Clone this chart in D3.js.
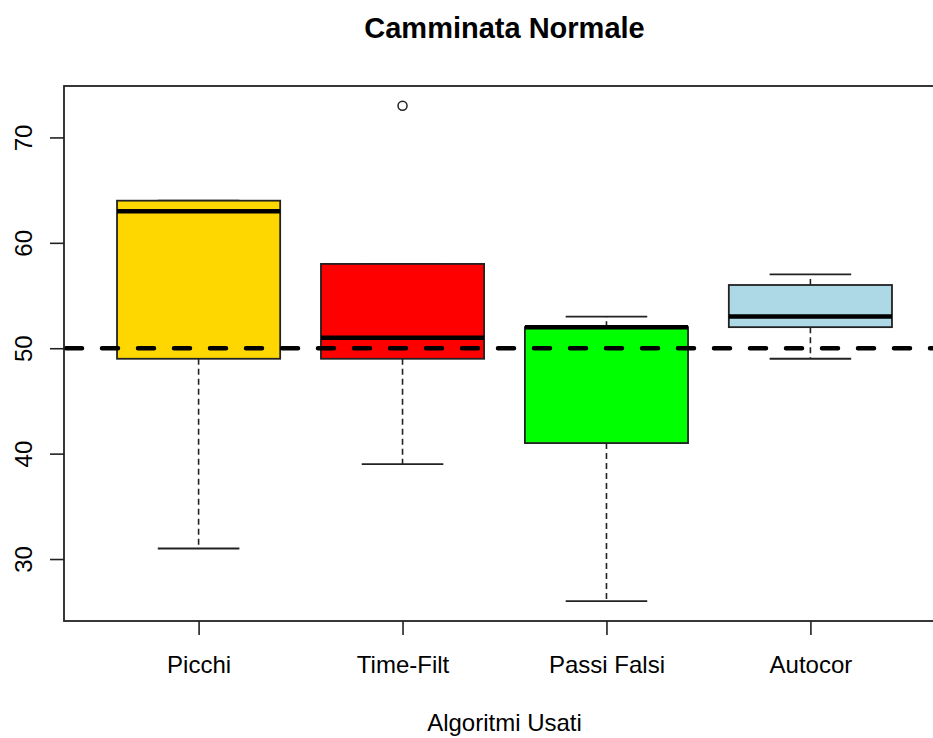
<!DOCTYPE html>
<html>
<head>
<meta charset="utf-8">
<script src="https://cdn.jsdelivr.net/npm/d3@7"></script>
<style>
  body { margin: 0; background: #fff; }
  svg { display: block; font-family: "Liberation Sans", Arial, sans-serif; }
</style>
</head>
<body>
<svg id="chart" width="933" height="738"></svg>
<script>
// dati
const categories = ["Picchi", "Time-Filt", "Passi Falsi", "Autocor"];
const fills = ["#FFD700", "#FF0000", "#00FF00", "#ADD8E6"];
const lowerWhisker = [31, 39, 26, 49];
const q1 = [49, 49, 41, 52];
const median = [63, 51, 52, 53];
const q3 = [64, 58, 52, 56];
const upperWhisker = [64, 58, 53, 57];
const outliers = [[], [73], [], []];
const yTicks = [30, 40, 50, 60, 70];
const refValue = 50;

const svg = d3.select("#chart");

// limiti come in R (estensione del 4%)
const yMin = d3.min([...lowerWhisker, ...outliers.flat()]);
const yMax = d3.max([...upperWhisker, ...outliers.flat()]);
const yPad = (yMax - yMin) * 0.04;
const n = categories.length;
const xPad = n * 0.04;

const x = d3.scaleLinear().domain([0.5 - xPad, n + 0.5 + xPad]).range([64, 945]);
const y = d3.scaleLinear().domain([yMin - yPad, yMax + yPad]).range([621, 86]);

const stroke = "#222";

// asse y
const yAxis = svg.append("g")
  .attr("transform", `translate(${x.range()[0]},0)`)
  .call(d3.axisLeft(y).tickValues(yTicks).tickSize(14).tickPadding(0).tickFormat(d3.format("d")));
yAxis.select(".domain").remove();
yAxis.selectAll(".tick line").attr("stroke", stroke).attr("stroke-width", 1.6);
yAxis.selectAll(".tick text")
  .attr("x", null).attr("dy", null)
  .attr("text-anchor", "middle")
  .attr("transform", "translate(-32,0) rotate(-90)")
  .attr("fill", "#000")
  .style("font-size", "24px")
  .style("font-family", "Liberation Sans, Arial, sans-serif");

// asse x
const xAxis = svg.append("g")
  .attr("transform", `translate(0,${y.range()[0]})`)
  .call(d3.axisBottom(x).tickValues(d3.range(1, n + 1)).tickSize(14).tickPadding(0)
    .tickFormat(i => categories[i - 1]));
xAxis.select(".domain").remove();
xAxis.selectAll(".tick line").attr("stroke", stroke).attr("stroke-width", 1.6);
xAxis.selectAll(".tick text")
  .attr("y", 52).attr("dy", null)
  .attr("fill", "#000")
  .style("font-size", "24px")
  .style("font-family", "Liberation Sans, Arial, sans-serif");

// box
const groups = svg.append("g").selectAll("g")
  .data(categories.map((c, i) => ({ c, i, pos: i + 1 })))
  .join("g");

// baffi tratteggiati
groups.append("line")
  .attr("x1", d => x(d.pos)).attr("x2", d => x(d.pos))
  .attr("y1", d => y(q3[d.i])).attr("y2", d => y(upperWhisker[d.i]))
  .attr("stroke", stroke).attr("stroke-width", 1.6).attr("stroke-dasharray", "6 4");
groups.append("line")
  .attr("x1", d => x(d.pos)).attr("x2", d => x(d.pos))
  .attr("y1", d => y(q1[d.i])).attr("y2", d => y(lowerWhisker[d.i]))
  .attr("stroke", stroke).attr("stroke-width", 1.6).attr("stroke-dasharray", "6 4");

// estremi dei baffi
groups.selectAll(".cap")
  .data(d => [upperWhisker[d.i], lowerWhisker[d.i]].map(v => ({ v, pos: d.pos })))
  .join("line")
  .attr("class", "cap")
  .attr("x1", d => x(d.pos - 0.2)).attr("x2", d => x(d.pos + 0.2))
  .attr("y1", d => y(d.v)).attr("y2", d => y(d.v))
  .attr("stroke", stroke).attr("stroke-width", 1.8);

groups.append("rect")
  .attr("x", d => x(d.pos - 0.4))
  .attr("width", d => x(d.pos + 0.4) - x(d.pos - 0.4))
  .attr("y", d => y(q3[d.i]))
  .attr("height", d => y(q1[d.i]) - y(q3[d.i]))
  .attr("fill", d => fills[d.i])
  .attr("stroke", stroke).attr("stroke-width", 1.8);

groups.append("line")
  .attr("x1", d => x(d.pos - 0.4)).attr("x2", d => x(d.pos + 0.4))
  .attr("y1", d => y(median[d.i])).attr("y2", d => y(median[d.i]))
  .attr("stroke", "#000").attr("stroke-width", 4.5);

// outlier
groups.selectAll(".out")
  .data(d => outliers[d.i].map(v => ({ v, pos: d.pos })))
  .join("circle")
  .attr("class", "out")
  .attr("cx", d => x(d.pos)).attr("cy", d => y(d.v))
  .attr("r", 4.5)
  .attr("fill", "none").attr("stroke", stroke).attr("stroke-width", 1.5);

// linea di riferimento
svg.append("line")
  .attr("x1", x.range()[0] + 2).attr("x2", x.range()[1])
  .attr("y1", y(refValue)).attr("y2", y(refValue))
  .attr("stroke", "#000").attr("stroke-width", 4.5)
  .attr("stroke-linecap", "round")
  .attr("stroke-dasharray", "16 20");

// cornice
svg.append("rect")
  .attr("x", x.range()[0]).attr("y", y.range()[1])
  .attr("width", x.range()[1] - x.range()[0])
  .attr("height", y.range()[0] - y.range()[1])
  .attr("fill", "none").attr("stroke", stroke).attr("stroke-width", 1.8);

// titoli
svg.append("text")
  .attr("x", (x.range()[0] + x.range()[1]) / 2).attr("y", 38)
  .attr("text-anchor", "middle")
  .style("font-size", "29px").style("font-weight", "bold")
  .text("Camminata Normale");

svg.append("text")
  .attr("x", (x.range()[0] + x.range()[1]) / 2).attr("y", 731)
  .attr("text-anchor", "middle")
  .style("font-size", "24px")
  .text("Algoritmi Usati");
</script>
</body>
</html>
